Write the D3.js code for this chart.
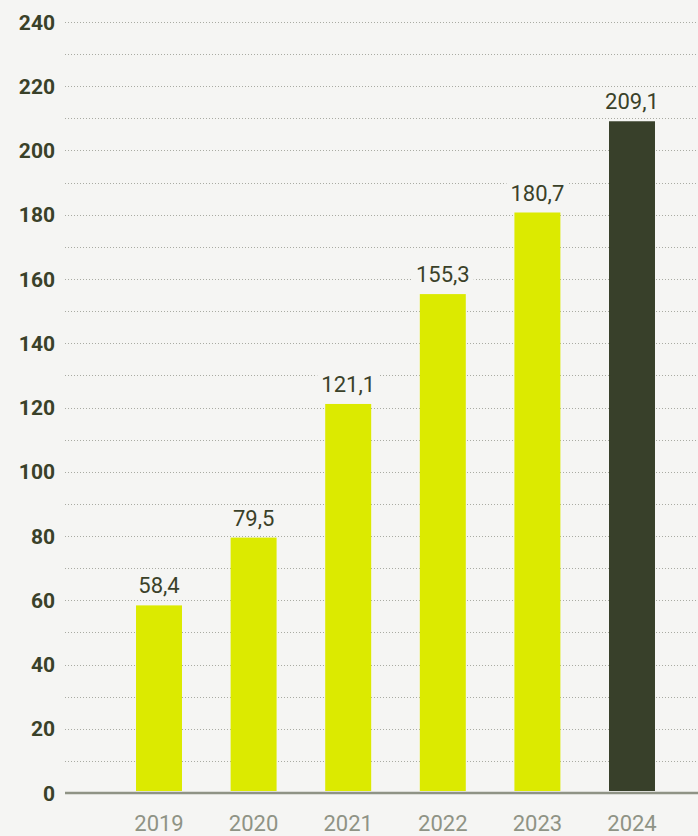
<!DOCTYPE html>
<html>
<head>
<meta charset="utf-8">
<script src="https://cdn.jsdelivr.net/npm/d3@7"></script>
<style>
  html, body { margin: 0; padding: 0; background: #f5f5f3; }
  svg { display: block; }
</style>
</head>
<body>
<svg id="chart" width="698" height="836"></svg>
<script>
const years = ["2019", "2020", "2021", "2022", "2023", "2024"];
const values = [58.4, 79.5, 121.1, 155.3, 180.7, 209.1];
const yTicks = [0, 20, 40, 60, 80, 100, 120, 140, 160, 180, 200, 220, 240];
const gridTicks = d3.range(10, 250, 10);

const svg = d3.select("#chart");
const font = "Roboto, sans-serif";

// scales
const y = d3.scaleLinear().domain([0, 240]).range([793, 22]);
const x = d3.scaleBand()
  .domain(years)
  .range([111.7, 679.3])
  .paddingInner(0.514)
  .paddingOuter(0.257);

// dotted grid lines
svg.append("g")
  .selectAll("line")
  .data(gridTicks)
  .enter()
  .append("line")
  .attr("x1", 65)
  .attr("x2", 698)
  .attr("y1", d => Math.round(y(d)) + 0.5)
  .attr("y2", d => Math.round(y(d)) + 0.5)
  .attr("stroke", "#a9aba3")
  .attr("stroke-width", 1)
  .attr("stroke-dasharray", "1,2");

// bars
svg.append("g")
  .selectAll("rect")
  .data(values)
  .enter()
  .append("rect")
  .attr("x", (d, i) => x(years[i]))
  .attr("y", d => y(d))
  .attr("width", x.bandwidth())
  .attr("height", d => y(0) - 2 - y(d))
  .attr("fill", (d, i) => i === values.length - 1 ? "#38402a" : "#dcea00");

// value labels with background to hide grid
const lbl = svg.append("g")
  .selectAll("g")
  .data(values)
  .enter()
  .append("g")
  .attr("transform", (d, i) => `translate(${x(years[i]) + x.bandwidth() / 2},${y(d) - 12})`);

lbl.append("text")
  .attr("text-anchor", "middle")
  .attr("font-family", font)
  .attr("font-size", 22)
  .attr("fill", "#3a4129")
  .text(d => d.toFixed(1).replace(".", ","))
  .each(function () {
    const b = this.getBBox();
    d3.select(this.parentNode).insert("rect", "text")
      .attr("x", b.x - 4)
      .attr("y", b.y)
      .attr("width", b.width + 8)
      .attr("height", b.height)
      .attr("fill", "#f5f5f3");
  });

// y labels
svg.append("g")
  .selectAll("text")
  .data(yTicks)
  .enter()
  .append("text")
  .attr("x", 55)
  .attr("y", d => y(d))
  .attr("dy", "0.36em")
  .attr("text-anchor", "end")
  .attr("font-family", font)
  .attr("font-weight", "bold")
  .attr("font-size", 21)
  .attr("fill", "#3a4129")
  .text(d => d);

// x axis line
svg.append("line")
  .attr("x1", 65)
  .attr("x2", 698)
  .attr("y1", y(0))
  .attr("y2", y(0))
  .attr("stroke", "#8f9385")
  .attr("stroke-width", 2.5);

// x labels
svg.append("g")
  .selectAll("text")
  .data(years)
  .enter()
  .append("text")
  .attr("x", d => x(d) + x.bandwidth() / 2)
  .attr("y", 831)
  .attr("text-anchor", "middle")
  .attr("font-family", font)
  .attr("font-size", 22)
  .attr("fill", "#8f9385")
  .text(d => d);
</script>
</body>
</html>
